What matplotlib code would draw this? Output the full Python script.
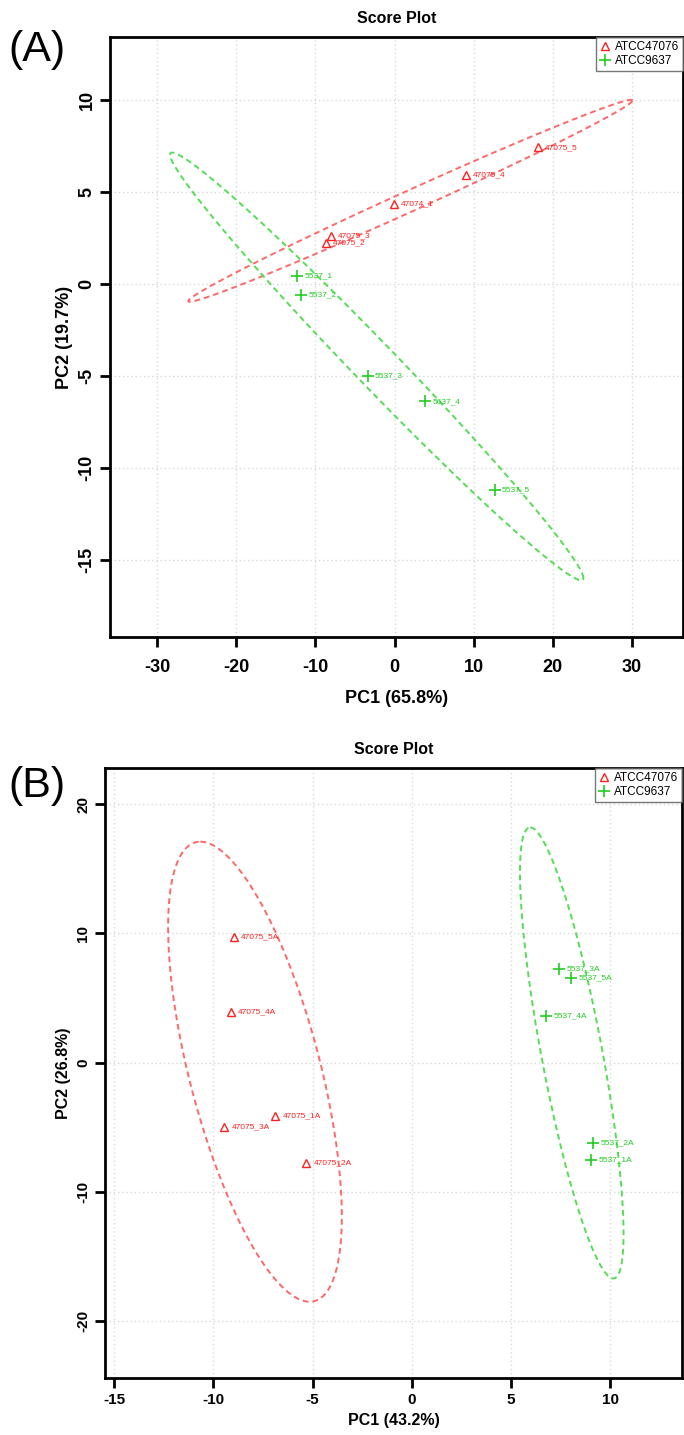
import numpy as np
import matplotlib
matplotlib.use("Agg")
import matplotlib.pyplot as plt

plt.rcParams["axes.unicode_minus"] = False

# ---------------- data: panel A ----------------
a_red_names = ["47075_5", "47075_4", "47074_1", "47075_3", "47075_2"]
a_red_x = [18.1, 9.0, -0.1, -8.0, -8.7]
a_red_y = [7.4, 5.9, 4.35, 2.6, 2.2]
a_grn_names = ["5537_1", "5537_2", "5537_3", "5637_4", "5537_5"]
a_grn_x = [-12.3, -11.8, -3.4, 3.9, 12.7]
a_grn_y = [0.43, -0.6, -5.0, -6.4, -11.2]
# ellipse: center, half-diameter to extreme point, conjugate half-diameter
a_red_ell = [(2.0, 4.5), (28.1, 5.45), (0.0, 0.62)]
a_grn_ell = [(-2.25, -4.5), (26.15, -11.5), (0.0, 1.68)]
a_xticks = [-30, -20, -10, 0, 10, 20, 30]
a_yticks = [-15, -10, -5, 0, 5, 10]

# ---------------- data: panel B ----------------
b_red_names = ["47075_5A", "47075_4A", "47075_1A", "47075_3A", "47075_2A"]
b_red_x = [-8.98, -9.13, -6.87, -9.44, -5.31]
b_red_y = [9.74, 3.94, -4.1, -4.95, -7.73]
b_grn_names = ["5537_3A", "5537_5A", "5537_4A", "5537_2A", "5537_1A"]
b_grn_x = [7.42, 8.03, 6.77, 9.13, 9.03]
b_grn_y = [7.27, 6.57, 3.63, -6.19, -7.5]
b_red_ell = [(-7.9, -0.7), (-2.75, 17.8), (3.4, 0.0)]
b_grn_ell = [(8.05, 0.75), (-2.09, 17.45), (1.56, 0.0)]
b_xticks = [-15, -10, -5, 0, 5, 10]
b_yticks = [-20, -10, 0, 10, 20]

legend_labels = ["ATCC47076", "ATCC9637"]

RED = "#FF2020"
GRN = "#22CC22"
RED_E = "#FF6868"
GRN_E = "#55DD55"
SANS = ["Liberation Sans", "DejaVu Sans"]

fig = plt.figure(figsize=(6.84, 14.35), dpi=100)


def ellipse_xy(ell):
    (cx, cy), (ax_, ay_), (bx_, by_) = ell
    t = np.linspace(0, 2 * np.pi, 300)
    return cx + ax_ * np.cos(t) + bx_ * np.sin(t), cy + ay_ * np.cos(t) + by_ * np.sin(t)


def panel(rect, rx, ry, rn, gx, gy, gn, rell, gell, xticks, yticks, xlim, ylim,
          xlabel, ylabel, tickfs, labfs, letter, letter_xy, xpad, xlabpad):
    ax = fig.add_axes(rect)
    ax.set_xlim(*xlim)
    ax.set_ylim(*ylim)
    ax.set_xticks(xticks)
    ax.set_yticks(yticks)
    ax.grid(True, color="#D8D8D8", linestyle=(0, (1, 2)), linewidth=1.0)
    ax.set_axisbelow(True)
    ex, ey = ellipse_xy(rell)
    ax.plot(ex, ey, color=RED_E, linestyle=(0, (3, 2)), linewidth=1.4)
    ex, ey = ellipse_xy(gell)
    ax.plot(ex, ey, color=GRN_E, linestyle=(0, (3, 2)), linewidth=1.4)
    ax.plot(rx, ry, linestyle="none", marker="^", markersize=6, markerfacecolor="none",
            markeredgecolor=RED, markeredgewidth=1.0, label=legend_labels[0])
    ax.plot(gx, gy, linestyle="none", marker="+", markersize=8, color=GRN,
            markeredgewidth=1.2, label=legend_labels[1])
    for x, y, n in zip(rx, ry, rn):
        ax.annotate(n, (x, y), xytext=(5, 0), textcoords="offset points",
                    fontsize=6, color=RED, va="center", ha="left", family=SANS)
    for x, y, n in zip(gx, gy, gn):
        ax.annotate(n, (x, y), xytext=(5, 0), textcoords="offset points",
                    fontsize=6, color=GRN, va="center", ha="left", family=SANS)
    for s in ax.spines.values():
        s.set_linewidth(2.0)
    ax.tick_params(direction="out", length=7, width=2.0, labelsize=tickfs)
    ax.tick_params(axis="x", pad=xpad)
    for lab in ax.get_xticklabels():
        lab.set_family(SANS)
        lab.set_fontweight("bold")
    for lab in ax.get_yticklabels():
        lab.set_family(SANS)
        lab.set_fontweight("bold")
        lab.set_rotation(90)
        lab.set_va("center")
    ax.set_xlabel(xlabel, fontsize=labfs, fontweight="bold", family=SANS, labelpad=xlabpad)
    ax.set_ylabel(ylabel, fontsize=labfs, fontweight="bold", family=SANS, labelpad=4)
    ax.set_title("Score Plot", fontsize=11.5, fontweight="bold", family=SANS, pad=10)
    leg = ax.legend(loc="upper right", fontsize=8.5, frameon=True, fancybox=False,
                    edgecolor="#555555", borderaxespad=0.0, handlelength=0.8,
                    handletextpad=0.4, borderpad=0.35, labelspacing=0.15)
    leg.get_frame().set_linewidth(1.0)
    for t in leg.get_texts():
        t.set_family(SANS)
    fig.text(letter_xy[0], letter_xy[1], letter, fontsize=31, family=SANS,
             ha="left", va="center")
    return ax


panel([110 / 684, 1 - 637 / 1435, 573 / 684, 600 / 1435],
      a_red_x, a_red_y, a_red_names, a_grn_x, a_grn_y, a_grn_names,
      a_red_ell, a_grn_ell, a_xticks, a_yticks, (-36.0, 36.5), (-19.2, 13.4),
      "PC1 (65.8%)", "PC2 (19.7%)", 13, 13, "(A)",
      (8 / 684, 1 - 50 / 1435), 9, 10)

panel([105 / 684, 1 - 1378 / 1435, 577 / 684, 610 / 1435],
      b_red_x, b_red_y, b_red_names, b_grn_x, b_grn_y, b_grn_names,
      b_red_ell, b_grn_ell, b_xticks, b_yticks, (-15.45, 13.6), (-24.4, 22.8),
      "PC1 (43.2%)", "PC2 (26.8%)", 11, 11.5, "(B)",
      (8 / 684, 1 - 786 / 1435), 4, 4)

fig.savefig("out.png", dpi=100)
